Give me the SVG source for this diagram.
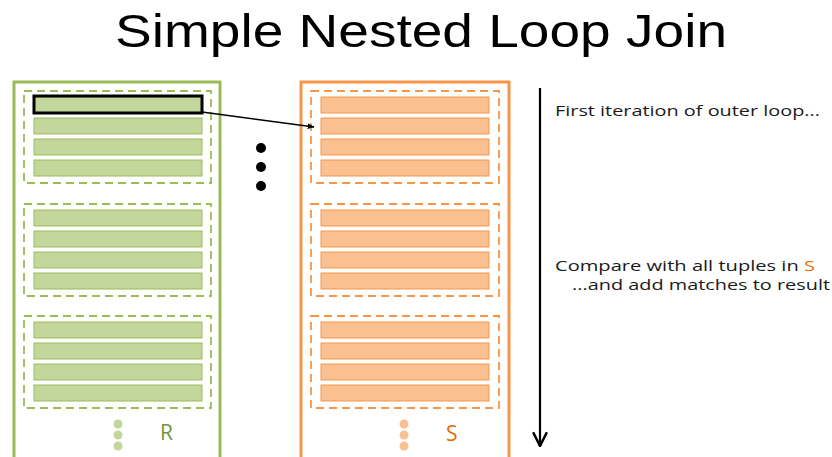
<svg xmlns="http://www.w3.org/2000/svg" width="832" height="457" viewBox="0 0 832 457">
<defs>
<style>
.title{font-family:"Liberation Sans",Arial,sans-serif;font-size:46px;fill:#000}
.txt{font-family:"Open Sans","Liberation Sans",sans-serif;font-size:15px;fill:#1a1a1a}
.gbox{fill:none;stroke:#9bbb59;stroke-width:3}
.obox{fill:none;stroke:#f79646;stroke-width:3}
.gdash{fill:none;stroke:#9bbb59;stroke-width:1.8;stroke-dasharray:8,5}
.odash{fill:none;stroke:#f79646;stroke-width:1.8;stroke-dasharray:8,5}
.grow{fill:#c3d69b;stroke:#9bbb59;stroke-width:1}
.orow{fill:#fac090;stroke:#f79646;stroke-width:1}
</style>
<marker id="ah" viewBox="0 0 10 10" refX="9" refY="5" markerWidth="7" markerHeight="7" orient="auto" markerUnits="userSpaceOnUse">
<path d="M0,1 L10,5 L0,9 Z" fill="#000"/>
</marker>
<marker id="ah2" viewBox="0 0 14 14" refX="13" refY="7" markerWidth="16" markerHeight="16" orient="auto" markerUnits="userSpaceOnUse">
<path d="M1,1 L13,7 L1,13" fill="none" stroke="#000" stroke-width="2.2"/>
</marker>
<g id="grows">
<rect class="grow" x="34" y="6" width="168" height="16"/>
<rect class="grow" x="34" y="27" width="168" height="16"/>
<rect class="grow" x="34" y="48" width="168" height="16"/>
<rect class="grow" x="34" y="69" width="168" height="16"/>
<rect class="gdash" x="24" y="0" width="187" height="92"/>
</g>
<g id="orows">
<rect class="orow" x="321" y="6" width="168" height="16"/>
<rect class="orow" x="321" y="27" width="168" height="16"/>
<rect class="orow" x="321" y="48" width="168" height="16"/>
<rect class="orow" x="321" y="69" width="168" height="16"/>
<rect class="odash" x="311" y="0" width="188" height="92"/>
</g>
</defs>
<rect width="832" height="457" fill="#fff"/>
<text class="title" x="421" y="47" text-anchor="middle" textLength="612" lengthAdjust="spacingAndGlyphs">Simple Nested Loop Join</text>

<g id="R">
<path class="gbox" d="M14,460 V82 H220 V460"/>
<use href="#grows" y="91"/>
<use href="#grows" y="204"/>
<use href="#grows" y="316"/>
<rect x="34" y="96" width="168" height="17" fill="none" stroke="#000" stroke-width="3"/>
<circle cx="118" cy="424" r="4.5" fill="#c3d69b"/>
<circle cx="118" cy="435" r="4.5" fill="#c3d69b"/>
<circle cx="118" cy="446" r="4.5" fill="#c3d69b"/>
<text x="160" y="440" font-family="Open Sans,Liberation Sans,sans-serif" font-size="21" fill="#77933c">R</text>
</g>

<g id="S">
<path class="obox" d="M301,460 V82 H509 V460"/>
<use href="#orows" y="91"/>
<use href="#orows" y="204"/>
<use href="#orows" y="316"/>
<circle cx="404" cy="424" r="4.5" fill="#fac090"/>
<circle cx="404" cy="435" r="4.5" fill="#fac090"/>
<circle cx="404" cy="446" r="4.5" fill="#fac090"/>
<text x="446" y="441" font-family="Open Sans,Liberation Sans,sans-serif" font-size="21" fill="#e46c0a">S</text>
</g>

<g id="ellipsis">
<circle cx="261" cy="148" r="5" fill="#000"/>
<circle cx="261" cy="167" r="5" fill="#000"/>
<circle cx="261" cy="186" r="5" fill="#000"/>
</g>

<g id="connectors">
<line x1="202" y1="112" x2="314" y2="127" stroke="#000" stroke-width="1.6" marker-end="url(#ah)"/>
<line x1="540" y1="88" x2="540" y2="446" stroke="#000" stroke-width="2.2" marker-end="url(#ah2)"/>
</g>

<g id="labels">
<text class="txt" x="555" y="116" textLength="265" lengthAdjust="spacingAndGlyphs">First iteration of outer loop...</text>
<text class="txt" x="555" y="271" textLength="260" lengthAdjust="spacingAndGlyphs">Compare with all tuples in <tspan fill="#e46c0a">S</tspan></text>
<text class="txt" x="572" y="290" textLength="258" lengthAdjust="spacingAndGlyphs">...and add matches to result</text>
</g>
</svg>
